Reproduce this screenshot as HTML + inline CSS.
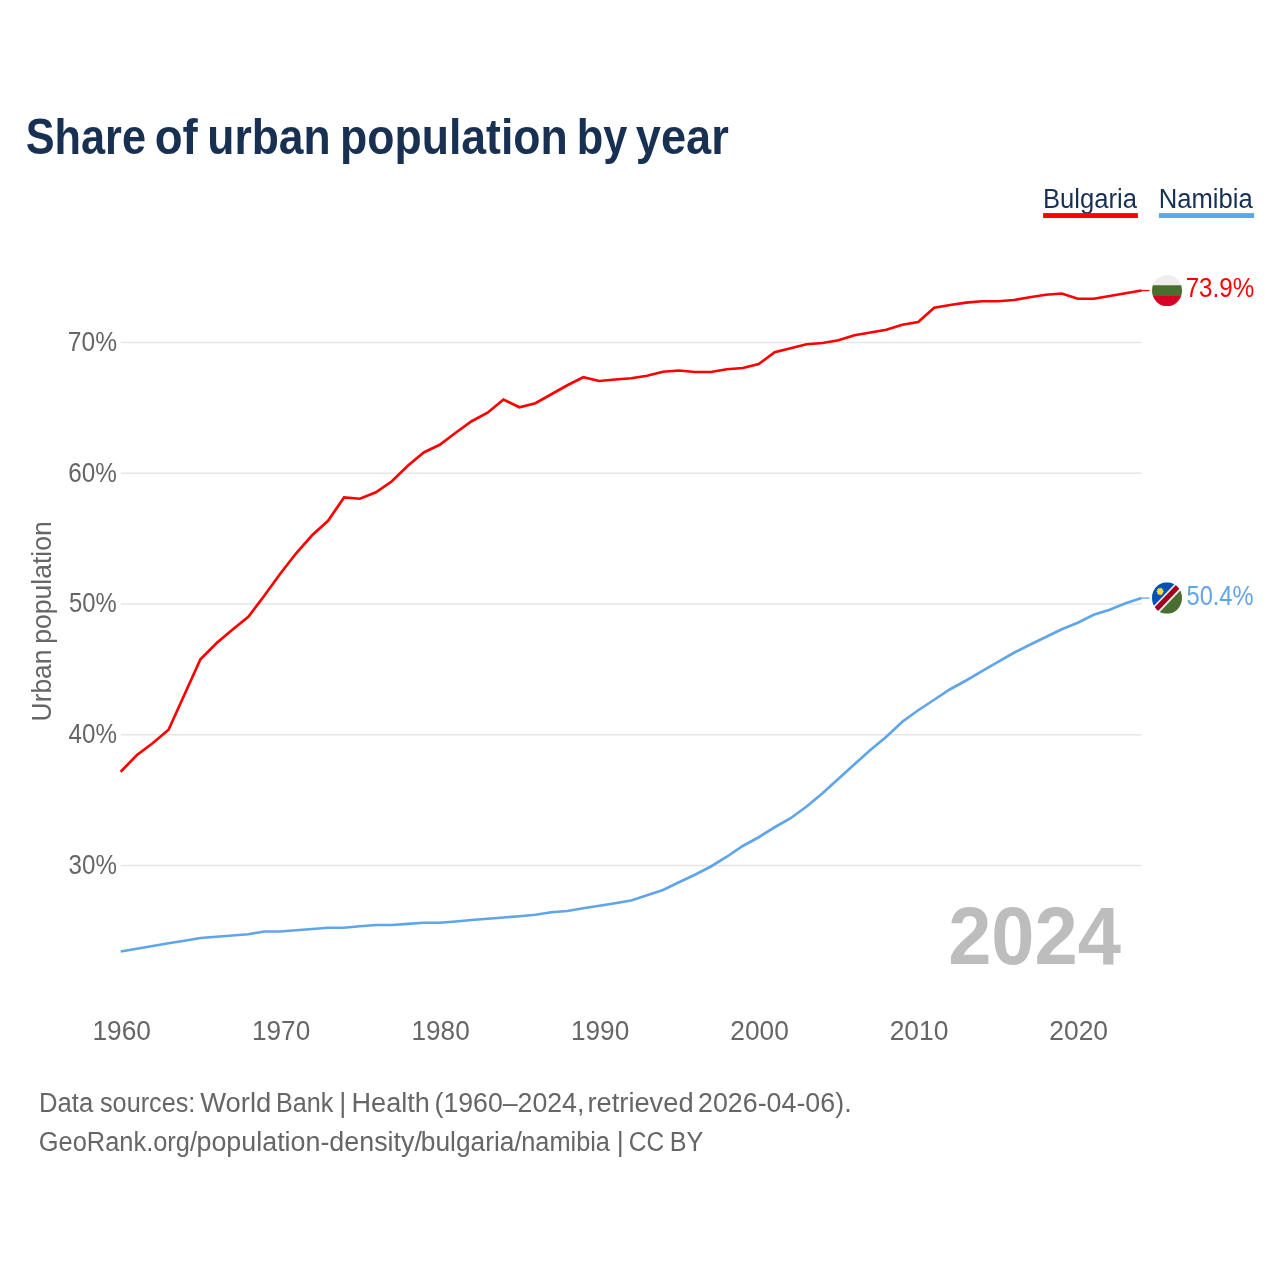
<!DOCTYPE html>
<html lang="en">
<head>
<meta charset="utf-8">
<title>Share of urban population by year</title>
<style>
html,body{margin:0;padding:0;background:#fff;}
body{width:1280px;height:1280px;overflow:hidden;}
svg{display:block;}
text{font-family:"Liberation Sans",sans-serif;}
.title{font-weight:700;font-size:49.5px;fill:#183153;}
.leg{font-size:27px;fill:#183153;}
.ax{font-size:27px;fill:#666;}
.axt{font-size:27px;fill:#666;}
.val{font-size:27px;}
.foot{font-size:27px;fill:#666;}
.year{font-weight:700;font-size:81.3px;fill:#bdbdbd;}
.grid line{stroke:#e6e6e6;stroke-width:1.33;}
</style>
</head>
<body>
<svg width="1280" height="1280" viewBox="0 0 1280 1280">
<rect width="1280" height="1280" fill="#fff"/>
<text class="title" y="153.8"><tspan x="25.75" textLength="120.19" lengthAdjust="spacingAndGlyphs">Share</tspan> <tspan x="154.75" textLength="43.08" lengthAdjust="spacingAndGlyphs">of</tspan> <tspan x="207.25" textLength="123.40" lengthAdjust="spacingAndGlyphs">urban</tspan> <tspan x="340.00" textLength="227.81" lengthAdjust="spacingAndGlyphs">population</tspan> <tspan x="576.75" textLength="50.59" lengthAdjust="spacingAndGlyphs">by</tspan> <tspan x="635.75" textLength="92.99" lengthAdjust="spacingAndGlyphs">year</tspan></text>

<g class="leg">
<text x="1043.00" y="207.50" textLength="93.89" lengthAdjust="spacingAndGlyphs">Bulgaria</text>
<rect x="1043.1" y="213.1" width="94.8" height="4.9" fill="#ff0000"/>
<text x="1158.70" y="207.50" textLength="94.08" lengthAdjust="spacingAndGlyphs">Namibia</text>
<rect x="1158.9" y="213.1" width="95.2" height="4.9" fill="#5fa5ea"/>
</g>

<g class="grid">
<line x1="120.7" x2="1141.7" y1="342.5" y2="342.5"/>
<line x1="120.7" x2="1141.7" y1="473.25" y2="473.25"/>
<line x1="120.7" x2="1141.7" y1="604.0" y2="604.0"/>
<line x1="120.7" x2="1141.7" y1="734.75" y2="734.75"/>
<line x1="120.7" x2="1141.7" y1="865.5" y2="865.5"/>
</g>
<g class="ax">
<text x="67.85" y="350.95" textLength="49.14" lengthAdjust="spacingAndGlyphs">70%</text>
<text x="68.15" y="481.70" textLength="48.62" lengthAdjust="spacingAndGlyphs">60%</text>
<text x="69.00" y="612.45" textLength="47.78" lengthAdjust="spacingAndGlyphs">50%</text>
<text x="68.50" y="743.20" textLength="48.38" lengthAdjust="spacingAndGlyphs">40%</text>
<text x="68.60" y="873.95" textLength="48.28" lengthAdjust="spacingAndGlyphs">30%</text>
<text x="92.50" y="1039.80" textLength="58.50" lengthAdjust="spacingAndGlyphs">1960</text>
<text x="252.00" y="1039.80" textLength="58.23" lengthAdjust="spacingAndGlyphs">1970</text>
<text x="411.50" y="1039.80" textLength="58.23" lengthAdjust="spacingAndGlyphs">1980</text>
<text x="571.00" y="1039.80" textLength="58.23" lengthAdjust="spacingAndGlyphs">1990</text>
<text x="730.25" y="1039.80" textLength="58.52" lengthAdjust="spacingAndGlyphs">2000</text>
<text x="889.65" y="1039.80" textLength="58.83" lengthAdjust="spacingAndGlyphs">2010</text>
<text x="1049.25" y="1039.80" textLength="58.78" lengthAdjust="spacingAndGlyphs">2020</text>
<text class="axt" transform="translate(51.3,719.4) rotate(-90)" y="0"><tspan x="-1.99" textLength="71.86" lengthAdjust="spacingAndGlyphs">Urban</tspan> <tspan x="75.55" textLength="122.67" lengthAdjust="spacingAndGlyphs">population</tspan></text>
</g>

<text class="year" x="948.15" y="963.80" textLength="172.82" lengthAdjust="spacingAndGlyphs">2024</text>

<polyline fill="none" stroke="#ff0000" stroke-width="2.67" points="120.70,771.75 136.65,755.25 152.60,743.25 168.55,729.75 184.50,694.55 200.45,659.25 216.40,643.25 232.36,629.75 248.31,616.75 264.26,595.75 280.21,573.75 296.16,553.25 312.11,535.25 328.06,520.75 344.01,497.45 359.96,498.75 375.91,492.25 391.86,481.25 407.81,465.75 423.76,452.50 439.72,444.75 455.67,432.75 471.62,421.25 487.57,412.75 503.52,399.50 519.47,407.25 535.42,403.25 551.37,394.25 567.32,385.25 583.27,377.25 599.22,381.00 615.17,379.50 631.12,378.25 647.08,375.75 663.03,371.75 678.98,370.50 694.93,372.00 710.88,372.00 726.83,369.25 742.78,368.00 758.73,364.00 774.68,352.25 790.63,348.25 806.58,344.25 822.53,343.00 838.49,340.25 854.44,335.25 870.39,332.50 886.34,329.75 902.29,324.75 918.24,322.00 934.19,307.75 950.14,305.00 966.09,302.65 982.04,301.25 997.99,301.25 1013.94,300.00 1029.89,297.25 1045.85,294.75 1061.80,293.50 1077.75,298.75 1093.70,298.75 1109.65,296.00 1125.60,293.25 1141.55,290.50"/>
<polyline fill="none" stroke="#5fa5ea" stroke-width="2.67" points="120.70,951.50 136.65,948.75 152.60,946.00 168.55,943.25 184.50,940.75 200.45,938.00 216.40,936.75 232.36,935.50 248.31,934.25 264.26,931.50 280.21,931.50 296.16,930.25 312.11,929.00 328.06,927.75 344.01,927.75 359.96,926.25 375.91,925.00 391.86,925.00 407.81,923.85 423.76,922.75 439.72,922.75 455.67,921.50 471.62,920.00 487.57,918.75 503.52,917.50 519.47,916.25 535.42,914.75 551.37,912.25 567.32,911.00 583.27,908.25 599.22,905.75 615.17,903.25 631.12,900.50 647.08,895.25 663.03,890.00 678.98,882.25 694.93,874.75 710.88,866.50 726.83,856.75 742.78,846.00 758.73,837.25 774.68,827.25 790.63,818.25 806.58,806.50 822.53,793.25 838.49,778.75 854.44,764.25 870.39,750.00 886.34,736.75 902.29,721.75 918.24,710.25 934.19,699.75 950.14,689.25 966.09,680.50 982.04,671.15 997.99,661.85 1013.94,652.75 1029.89,644.75 1045.85,637.00 1061.80,629.25 1077.75,622.75 1093.70,614.75 1109.65,609.75 1125.60,603.25 1141.55,598.00"/>
<line x1="1141.3" x2="1149.5" y1="290.55" y2="290.55" stroke="#ff0000" stroke-width="1.3"/>
<line x1="1141.3" x2="1149.5" y1="598.05" y2="598.05" stroke="#5fa5ea" stroke-width="1.3"/>

<defs>
<clipPath id="c1"><circle cx="256" cy="256" r="256"/></clipPath>
</defs>
<g transform="translate(1152,274.95) scale(0.058594,0.0611)" clip-path="url(#c1)">
<path fill="#eeeeee" d="M0 0h512v167H0z"/>
<path fill="#496e2d" d="M0 167h512v178H0z"/>
<path fill="#d80027" d="M0 345h512v167H0z"/>
</g>
<g transform="translate(1152,582.25) scale(0.058594,0.0615)" clip-path="url(#c1)">
<path fill="#f0f0f0" d="M414 0h98v104L104 512H0v-98z"/>
<path fill="#0052b4" d="M0 0h414L0 414z"/>
<path fill="#a2001d" d="M453 0h59v59L59 512H0v-59z"/>
<path fill="#496e2d" d="M512 512V104L104 512z"/>
<path fill="#ffda44" d="M139.0 81.0L150.9 105.6L173.5 90.2L171.5 117.5L198.8 115.5L183.4 138.1L208.0 150.0L183.4 161.9L198.8 184.5L171.5 182.5L173.5 209.8L150.9 194.4L139.0 219.0L127.1 194.4L104.5 209.8L106.5 182.5L79.2 184.5L94.6 161.9L70.0 150.0L94.6 138.1L79.2 115.5L106.5 117.5L104.5 90.2L127.1 105.6z"/>
</g>

<text class="val" x="1185.65" y="297.00" textLength="68.57" lengthAdjust="spacingAndGlyphs" fill="#ff0000">73.9%</text>
<text class="val" x="1186.50" y="604.70" textLength="67.03" lengthAdjust="spacingAndGlyphs" fill="#5fa5ea">50.4%</text>

<g class="foot">
<text y="1112"><tspan x="39.00" textLength="54.18" lengthAdjust="spacingAndGlyphs">Data</tspan> <tspan x="100.00" textLength="95.33" lengthAdjust="spacingAndGlyphs">sources:</tspan> <tspan x="200.25" textLength="71.06" lengthAdjust="spacingAndGlyphs">World</tspan> <tspan x="276.00" textLength="57.39" lengthAdjust="spacingAndGlyphs">Bank</tspan> <tspan x="339.25" textLength="7.02" lengthAdjust="spacingAndGlyphs">|</tspan> <tspan x="351.50" textLength="78.31" lengthAdjust="spacingAndGlyphs">Health</tspan> <tspan x="434.50" textLength="149.84" lengthAdjust="spacingAndGlyphs">(1960–2024,</tspan> <tspan x="587.50" textLength="106.08" lengthAdjust="spacingAndGlyphs">retrieved</tspan> <tspan x="698.00" textLength="153.59" lengthAdjust="spacingAndGlyphs">2026-04-06).</tspan></text>
<text y="1150.5"><tspan x="38.75" textLength="158.27" lengthAdjust="spacingAndGlyphs">GeoRank.org/</tspan><tspan x="196.50" textLength="225.40" lengthAdjust="spacingAndGlyphs">population-density/</tspan><tspan x="420.75" textLength="101.03" lengthAdjust="spacingAndGlyphs">bulgaria/</tspan><tspan x="521.25" textLength="88.70" lengthAdjust="spacingAndGlyphs">namibia</tspan> <tspan x="616.75" textLength="7.02" lengthAdjust="spacingAndGlyphs">|</tspan> <tspan x="628.75" textLength="35.29" lengthAdjust="spacingAndGlyphs">CC</tspan> <tspan x="669.73" textLength="33.58" lengthAdjust="spacingAndGlyphs">BY</tspan></text>
</g>
</svg>
</body>
</html>
